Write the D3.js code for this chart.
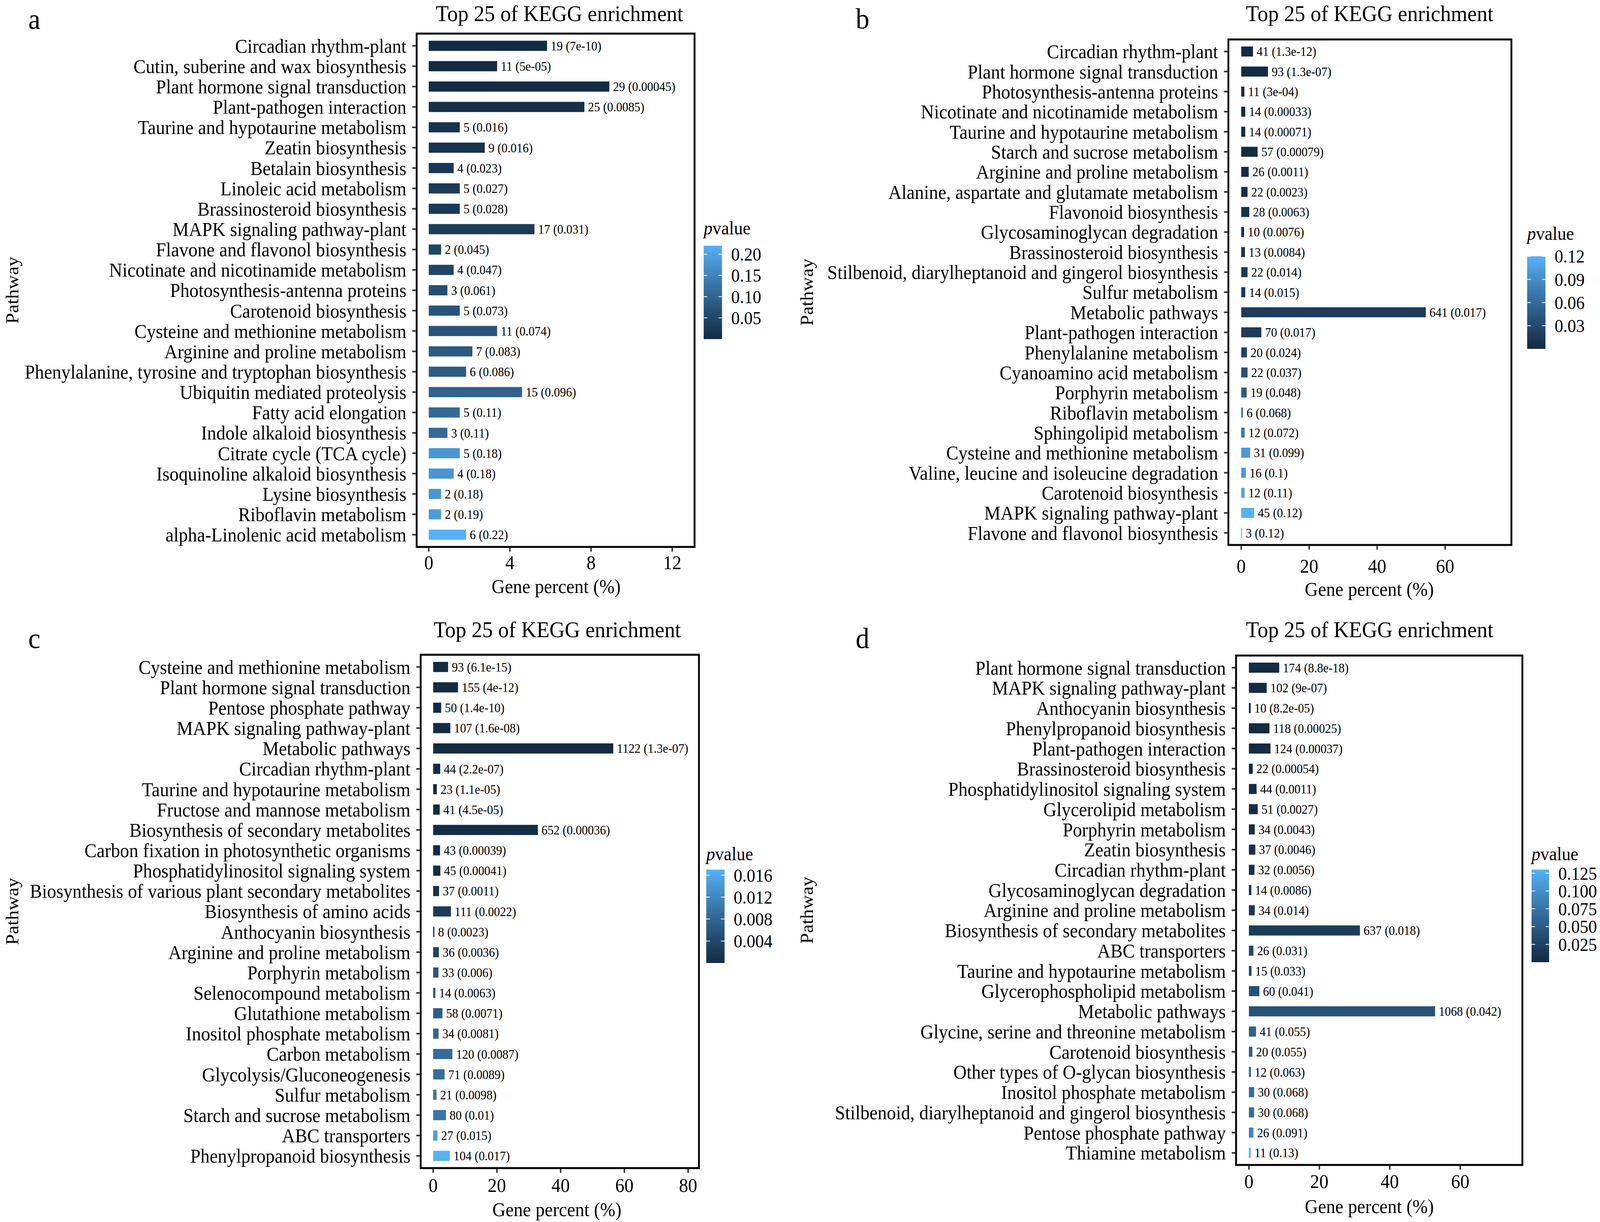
<!DOCTYPE html>
<html>
<head>
<meta charset="utf-8">
<script src="https://cdn.jsdelivr.net/npm/d3@7"></script>
<style>
  html, body { margin: 0; padding: 0; height: 100%; overflow: hidden; background: #fff; }
  #chart svg { display: block; }
</style>
</head>
<body>
<div id="chart"></div>
<script>
// ---- panel a ----
const pathwaysA = ["Circadian rhythm-plant", "Cutin, suberine and wax biosynthesis", "Plant hormone signal transduction",
  "Plant-pathogen interaction", "Taurine and hypotaurine metabolism", "Zeatin biosynthesis", "Betalain biosynthesis",
  "Linoleic acid metabolism", "Brassinosteroid biosynthesis", "MAPK signaling pathway-plant", "Flavone and flavonol biosynthesis",
  "Nicotinate and nicotinamide metabolism", "Photosynthesis-antenna proteins", "Carotenoid biosynthesis",
  "Cysteine and methionine metabolism", "Arginine and proline metabolism", "Phenylalanine, tyrosine and tryptophan biosynthesis",
  "Ubiquitin mediated proteolysis", "Fatty acid elongation", "Indole alkaloid biosynthesis", "Citrate cycle (TCA cycle)",
  "Isoquinoline alkaloid biosynthesis", "Lysine biosynthesis", "Riboflavin metabolism", "alpha-Linolenic acid metabolism"];
const countsA = [19, 11, 29, 25, 5, 9, 4, 5, 5, 17, 2, 4, 3, 5, 11, 7, 6, 15, 5, 3, 5, 4, 2, 2, 6];
const percentA = [5.83, 3.37, 8.90, 7.67, 1.53, 2.76, 1.23, 1.53, 1.53, 5.21, 0.61, 1.23, 0.92, 1.53, 3.37, 2.15, 1.84, 4.60,
  1.53, 0.92, 1.53, 1.23, 0.61, 0.61, 1.84];
const pvalA = ["7e-10", "5e-05", "0.00045", "0.0085", "0.016", "0.016", "0.023", "0.027", "0.028", "0.031", "0.045", "0.047",
  "0.061", "0.073", "0.074", "0.083", "0.086", "0.096", "0.11", "0.11", "0.18", "0.18", "0.18", "0.19", "0.22"];
const xTicksA = [0, 4, 8, 12];
const legendTicksA = [0.05, 0.10, 0.15, 0.20];

// ---- panel b ----
const pathwaysB = ["Circadian rhythm-plant", "Plant hormone signal transduction", "Photosynthesis-antenna proteins",
  "Nicotinate and nicotinamide metabolism", "Taurine and hypotaurine metabolism", "Starch and sucrose metabolism",
  "Arginine and proline metabolism", "Alanine, aspartate and glutamate metabolism", "Flavonoid biosynthesis",
  "Glycosaminoglycan degradation", "Brassinosteroid biosynthesis", "Stilbenoid, diarylheptanoid and gingerol biosynthesis",
  "Sulfur metabolism", "Metabolic pathways", "Plant-pathogen interaction", "Phenylalanine metabolism",
  "Cyanoamino acid metabolism", "Porphyrin metabolism", "Riboflavin metabolism", "Sphingolipid metabolism",
  "Cysteine and methionine metabolism", "Valine, leucine and isoleucine degradation", "Carotenoid biosynthesis",
  "MAPK signaling pathway-plant", "Flavone and flavonol biosynthesis"];
const countsB = [41, 93, 11, 14, 14, 57, 26, 22, 28, 10, 13, 22, 14, 641, 70, 20, 22, 19, 6, 12, 31, 16, 12, 45, 3];
const percentB = [3.47, 7.88, 0.93, 1.19, 1.19, 4.83, 2.20, 1.86, 2.37, 0.85, 1.10, 1.86, 1.19, 54.32, 5.93, 1.69, 1.86,
  1.61, 0.51, 1.02, 2.63, 1.36, 1.02, 3.81, 0.25];
const pvalB = ["1.3e-12", "1.3e-07", "3e-04", "0.00033", "0.00071", "0.00079", "0.0011", "0.0023", "0.0063", "0.0076",
  "0.0084", "0.014", "0.015", "0.017", "0.017", "0.024", "0.037", "0.048", "0.068", "0.072", "0.099", "0.1", "0.11",
  "0.12", "0.12"];
const xTicksB = [0, 20, 40, 60];
const legendTicksB = [0.03, 0.06, 0.09, 0.12];

// ---- panel c ----
const pathwaysC = ["Cysteine and methionine metabolism", "Plant hormone signal transduction", "Pentose phosphate pathway",
  "MAPK signaling pathway-plant", "Metabolic pathways", "Circadian rhythm-plant", "Taurine and hypotaurine metabolism",
  "Fructose and mannose metabolism", "Biosynthesis of secondary metabolites", "Carbon fixation in photosynthetic organisms",
  "Phosphatidylinositol signaling system", "Biosynthesis of various plant secondary metabolites",
  "Biosynthesis of amino acids", "Anthocyanin biosynthesis", "Arginine and proline metabolism", "Porphyrin metabolism",
  "Selenocompound metabolism", "Glutathione metabolism", "Inositol phosphate metabolism", "Carbon metabolism",
  "Glycolysis/Gluconeogenesis", "Sulfur metabolism", "Starch and sucrose metabolism", "ABC transporters",
  "Phenylpropanoid biosynthesis"];
const countsC = [93, 155, 50, 107, 1122, 44, 23, 41, 652, 43, 45, 37, 111, 8, 36, 33, 14, 58, 34, 120, 71, 21, 80, 27, 104];
const percentC = [4.69, 7.81, 2.52, 5.39, 56.52, 2.22, 1.16, 2.07, 32.85, 2.17, 2.27, 1.86, 5.59, 0.40, 1.81, 1.66, 0.71,
  2.92, 1.71, 6.05, 3.58, 1.06, 4.03, 1.36, 5.24];
const pvalC = ["6.1e-15", "4e-12", "1.4e-10", "1.6e-08", "1.3e-07", "2.2e-07", "1.1e-05", "4.5e-05", "0.00036", "0.00039",
  "0.00041", "0.0011", "0.0022", "0.0023", "0.0036", "0.006", "0.0063", "0.0071", "0.0081", "0.0087", "0.0089", "0.0098",
  "0.01", "0.015", "0.017"];
const xTicksC = [0, 20, 40, 60, 80];
const legendTicksC = [0.004, 0.008, 0.012, 0.016];

// ---- panel d ----
const pathwaysD = ["Plant hormone signal transduction", "MAPK signaling pathway-plant", "Anthocyanin biosynthesis",
  "Phenylpropanoid biosynthesis", "Plant-pathogen interaction", "Brassinosteroid biosynthesis",
  "Phosphatidylinositol signaling system", "Glycerolipid metabolism", "Porphyrin metabolism", "Zeatin biosynthesis",
  "Circadian rhythm-plant", "Glycosaminoglycan degradation", "Arginine and proline metabolism",
  "Biosynthesis of secondary metabolites", "ABC transporters", "Taurine and hypotaurine metabolism",
  "Glycerophospholipid metabolism", "Metabolic pathways", "Glycine, serine and threonine metabolism",
  "Carotenoid biosynthesis", "Other types of O-glycan biosynthesis", "Inositol phosphate metabolism",
  "Stilbenoid, diarylheptanoid and gingerol biosynthesis", "Pentose phosphate pathway", "Thiamine metabolism"];
const countsD = [174, 102, 10, 118, 124, 22, 44, 51, 34, 37, 32, 14, 34, 637, 26, 15, 60, 1068, 41, 20, 12, 30, 30, 26, 11];
const percentD = [8.61, 5.05, 0.50, 5.84, 6.14, 1.09, 2.18, 2.52, 1.68, 1.83, 1.58, 0.69, 1.68, 31.53, 1.29, 0.74, 2.97,
  52.87, 2.03, 0.99, 0.59, 1.49, 1.49, 1.29, 0.54];
const pvalD = ["8.8e-18", "9e-07", "8.2e-05", "0.00025", "0.00037", "0.00054", "0.0011", "0.0027", "0.0043", "0.0046",
  "0.0056", "0.0086", "0.014", "0.018", "0.031", "0.033", "0.041", "0.042", "0.055", "0.055", "0.063", "0.068", "0.068",
  "0.091", "0.13"];
const xTicksD = [0, 20, 40, 60];
const legendTicksD = [0.025, 0.050, 0.075, 0.100, 0.125];

const W = 4370, H = 3128;
const FONT = "'Liberation Serif', 'Times New Roman', serif";

const panels = [
  { letter: "a", names: pathwaysA, counts: countsA, pct: percentA, pvals: pvalA, xTicks: xTicksA, legTicks: legendTicksA, fmt: ".2f",
    letterX: 77, letterY: 74, left: 1138, right: 1897, top: 86, bottom: 1400, xDomain: [-0.596, 13.1],
    titleX: 1528, titleY: 54, tickY: 1457, xTitleX: 1519, xTitleY: 1518, yTitleX: 50,
    leg: { x: 1922, y: 629, w: 50, h: 239, titleY: 600 } },
  { letter: "b", names: pathwaysB, counts: countsB, pct: percentB, pvals: pvalB, xTicks: xTicksB, legTicks: legendTicksB, fmt: ".2f",
    letterX: 2337, letterY: 73, left: 3355, right: 4128, top: 101, bottom: 1395, xDomain: [-3.78, 79.5],
    titleX: 3741, titleY: 54, tickY: 1466, xTitleX: 3740, xTitleY: 1525, yTitleX: 2220,
    leg: { x: 4171, y: 656, w: 50, h: 237, titleY: 614 } },
  { letter: "c", names: pathwaysC, counts: countsC, pct: percentC, pvals: pvalC, xTicks: xTicksC, legTicks: legendTicksC, fmt: ".3f",
    letterX: 77, letterY: 1659, left: 1149, right: 1909, top: 1676, bottom: 2990, xDomain: [-3.91, 83.4],
    titleX: 1522, titleY: 1631, tickY: 3051, xTitleX: 1521, xTitleY: 3113, yTitleX: 50,
    leg: { x: 1929, y: 2226, w: 50, h: 239, titleY: 2202 } },
  { letter: "d", names: pathwaysD, counts: countsD, pct: percentD, pvals: pvalD, xTicks: xTicksD, legTicks: legendTicksD, fmt: ".3f",
    letterX: 2337, letterY: 1659, left: 3376, right: 4158, top: 1678, bottom: 2982, xDomain: [-3.64, 77.65],
    titleX: 3741, titleY: 1631, tickY: 3041, xTitleX: 3740, xTitleY: 3105, yTitleX: 2220,
    leg: { x: 4183, y: 2226, w: 48, h: 237, titleY: 2202 } }
];

// the drawing is laid out in a 4370x3128 space and stretched to fill the window
const svg = d3.select("#chart")
    .append("svg")
    .attr("viewBox", `0 0 ${W} ${H}`)
    .attr("preserveAspectRatio", "none")
    .style("width", "100vw")
    .style("height", "100vh")
    .style("font-family", FONT);

svg.append("rect").attr("width", W).attr("height", H).attr("fill", "#fff");

const defs = svg.append("defs");

function drawPanel(p) {
    const data = p.names.map((name, i) => ({ name, count: p.counts[i], pct: p.pct[i], pStr: p.pvals[i], pv: +p.pvals[i] }));

    const xScale = d3.scaleLinear().domain(p.xDomain).range([p.left, p.right]);
    const yScale = d3.scalePoint().domain(p.names).range([p.top, p.bottom]).padding(0.6);
    const step = yScale.step();
    const pExtent = d3.extent(data, d => d.pv);
    const color = d3.scaleLinear().domain(pExtent).range(["#132B43", "#56B1F7"]).interpolate(d3.interpolateLab);

    const g = svg.append("g").attr("class", "panel-" + p.letter);

    // panel letter
    g.append("text")
        .attr("x", p.letterX)
        .attr("y", p.letterY)
        .attr("font-size", "75px")
        .text(p.letter);

    // title
    g.append("text")
        .attr("x", p.titleX)
        .attr("y", p.titleY)
        .attr("text-anchor", "middle")
        .attr("font-size", "58px")
        .text("Top 25 of KEGG enrichment");

    // bars
    g.selectAll(".bar")
        .data(data)
        .enter().append("rect")
        .attr("class", "bar")
        .attr("x", xScale(0))
        .attr("y", d => yScale(d.name) - step * 0.25)
        .attr("width", d => xScale(d.pct) - xScale(0))
        .attr("height", step * 0.5)
        .attr("fill", d => color(d.pv));

    // value labels
    g.selectAll(".valueLabel")
        .data(data)
        .enter().append("text")
        .attr("class", "valueLabel")
        .attr("x", d => xScale(d.pct) + 10)
        .attr("y", d => yScale(d.name))
        .attr("dy", "0.35em")
        .attr("font-size", "33px")
        .text(d => `${d.count} (${d.pStr})`);

    // frame
    g.append("rect")
        .attr("x", p.left)
        .attr("y", p.top)
        .attr("width", p.right - p.left)
        .attr("height", p.bottom - p.top)
        .attr("fill", "none")
        .attr("stroke", "#000")
        .attr("stroke-width", 5);

    // y ticks + labels
    g.selectAll(".yTick")
        .data(p.names)
        .enter().append("line")
        .attr("class", "yTick")
        .attr("x1", p.left - 12)
        .attr("x2", p.left - 2)
        .attr("y1", d => yScale(d))
        .attr("y2", d => yScale(d))
        .attr("stroke", "#333")
        .attr("stroke-width", 4);

    g.selectAll(".yLabel")
        .data(p.names)
        .enter().append("text")
        .attr("class", "yLabel")
        .attr("x", p.left - 28)
        .attr("y", d => yScale(d))
        .attr("dy", "0.35em")
        .attr("text-anchor", "end")
        .attr("font-size", "50px")
        .text(d => d);

    // x ticks + labels
    g.selectAll(".xTick")
        .data(p.xTicks)
        .enter().append("line")
        .attr("class", "xTick")
        .attr("x1", d => xScale(d))
        .attr("x2", d => xScale(d))
        .attr("y1", p.bottom + 2)
        .attr("y2", p.bottom + 12)
        .attr("stroke", "#333")
        .attr("stroke-width", 4);

    g.selectAll(".xLabel")
        .data(p.xTicks)
        .enter().append("text")
        .attr("class", "xLabel")
        .attr("x", d => xScale(d))
        .attr("y", p.tickY)
        .attr("text-anchor", "middle")
        .attr("font-size", "50px")
        .text(d => d);

    // axis titles
    g.append("text")
        .attr("x", p.xTitleX)
        .attr("y", p.xTitleY)
        .attr("text-anchor", "middle")
        .attr("font-size", "50px")
        .text("Gene percent (%)");

    g.append("text")
        .attr("transform", `translate(${p.yTitleX},${(p.top + p.bottom) / 2}) rotate(-90)`)
        .attr("text-anchor", "middle")
        .attr("font-size", "50px")
        .text("Pathway");

    // legend colour bar
    const gradId = "grad-" + p.letter;
    const grad = defs.append("linearGradient")
        .attr("id", gradId)
        .attr("x1", 0).attr("y1", 1).attr("x2", 0).attr("y2", 0);
    grad.selectAll("stop")
        .data(d3.range(0, 1.0001, 0.05))
        .enter().append("stop")
        .attr("offset", d => d)
        .attr("stop-color", d => color(pExtent[0] + d * (pExtent[1] - pExtent[0])));

    const L = p.leg;
    const legScale = d3.scaleLinear().domain(pExtent).range([L.y + L.h, L.y]);

    const title = g.append("text")
        .attr("x", L.x)
        .attr("y", L.titleY)
        .attr("font-size", "48px");
    title.append("tspan").attr("font-style", "italic").text("p");
    title.append("tspan").text("value");

    g.append("rect")
        .attr("x", L.x)
        .attr("y", L.y)
        .attr("width", L.w)
        .attr("height", L.h)
        .attr("fill", `url(#${gradId})`);

    g.selectAll(".legTickL")
        .data(p.legTicks)
        .enter().append("line")
        .attr("x1", L.x)
        .attr("x2", L.x + L.w * 0.2)
        .attr("y1", d => legScale(d))
        .attr("y2", d => legScale(d))
        .attr("stroke", "#fff")
        .attr("stroke-width", 2);

    g.selectAll(".legTickR")
        .data(p.legTicks)
        .enter().append("line")
        .attr("x1", L.x + L.w * 0.8)
        .attr("x2", L.x + L.w)
        .attr("y1", d => legScale(d))
        .attr("y2", d => legScale(d))
        .attr("stroke", "#fff")
        .attr("stroke-width", 2);

    g.selectAll(".legLabel")
        .data(p.legTicks)
        .enter().append("text")
        .attr("x", L.x + L.w + 25)
        .attr("y", d => legScale(d))
        .attr("dy", "0.35em")
        .attr("font-size", "47px")
        .text(d => d3.format(p.fmt)(d));
}

panels.forEach(drawPanel);
</script>
</body>
</html>
